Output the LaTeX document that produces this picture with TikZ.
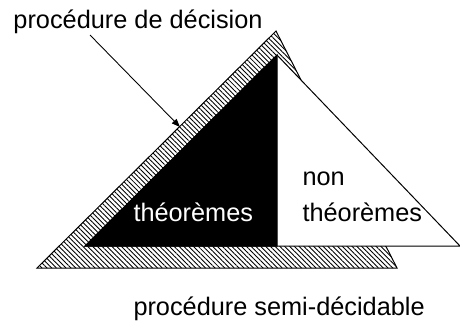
\documentclass[tikz,border=0pt]{standalone}
\usepackage{fontspec}
\setmainfont{Liberation Sans}
\usepackage{tikz}
\usetikzlibrary{positioning,arrows.meta,patterns.meta}

\begin{document}
\begin{tikzpicture}[
  x=0.03cm, y=-0.03cm,
  line width=0.85pt,
  font=\fontsize{21.6}{26}\selectfont,
  lbl/.style={inner sep=0pt, anchor=base west},
  hatched/.style={draw=black, pattern={Lines[angle=-45, distance=2.9pt, line width=0.75pt]}},
  setbox/.style={draw=black, fill=white},
  thmbox/.style={draw=black, fill=black},
  pointer/.style={-{Triangle[length=0.25cm, width=0.19cm]}, line width=0.75pt}
]
\useasboundingbox (0,0) rectangle (460,322);
% outer hatched triangle = semi-decidable procedure, the white triangle
% (non theoremes) sits on top of it, black part = theoremes
\coordinate (sl) at (37,268);
\coordinate (stop) at (276,31);
\coordinate (sr) at (397,268);
\coordinate (tl) at (85,246);
\coordinate (ttop) at (277,55);
\coordinate (tr) at (460,246);
\coordinate (tmid) at (277,246);
\coordinate (tip) at (180,127);

\draw[hatched] (sl) -- (stop) -- (sr) -- cycle;
\draw[setbox] (ttop) -- (tr) -- (tl) -- cycle;
\draw[thmbox] (tl) -- (ttop) -- (tmid) -- cycle;

\node[lbl] (decision) at (13,28) {procédure de décision};
\node[lbl] (semi) at (133,315) {procédure semi-décidable};
\node[lbl, text=white] (thm) at (133,221) {théorèmes};
\node[lbl] (non) at (302,185) {non};
\node[lbl] (nonthm) at (302,221) {théorèmes};

\coordinate (from) at (90,35);
\draw[pointer] (from) -- (tip);
\end{tikzpicture}
\end{document}
